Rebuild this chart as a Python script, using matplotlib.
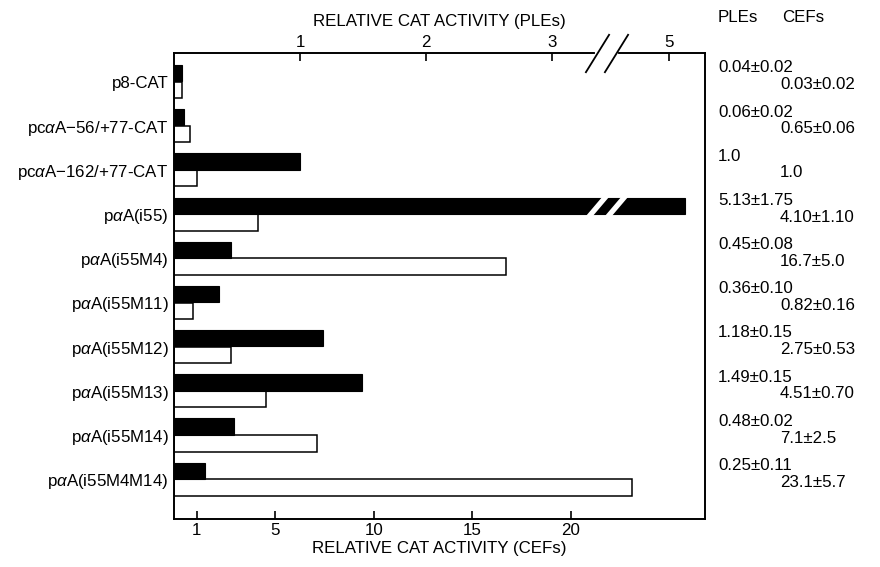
import numpy as np
import matplotlib
matplotlib.use("Agg")
import matplotlib.pyplot as plt
from matplotlib.transforms import blended_transform_factory

plt.rcParams['font.family'] = ['Liberation Sans', 'DejaVu Sans']
plt.rcParams['mathtext.fontset'] = 'custom'
plt.rcParams['mathtext.rm'] = 'Liberation Sans'
plt.rcParams['mathtext.it'] = 'Liberation Sans:italic'

constructs = [
    "p8-CAT",
    r"pc$\alpha$A$-$56/$+$77-CAT",
    r"pc$\alpha$A$-$162/$+$77-CAT",
    r"p$\alpha$A(i55)",
    r"p$\alpha$A(i55M4)",
    r"p$\alpha$A(i55M11)",
    r"p$\alpha$A(i55M12)",
    r"p$\alpha$A(i55M13)",
    r"p$\alpha$A(i55M14)",
    r"p$\alpha$A(i55M4M14)",
]
# bar lengths as drawn
ple_vals = [0.06, 0.08, 1.0, 5.13, 0.45, 0.36, 1.18, 1.49, 0.48, 0.25]
cef_vals = [0.25, 0.65, 1.0, 4.10, 16.7, 0.82, 2.75, 4.51, 7.1, 23.1]
ple_text = ["0.04\u00b10.02", "0.06\u00b10.02", "1.0", "5.13\u00b11.75", "0.45\u00b10.08",
            "0.36\u00b10.10", "1.18\u00b10.15", "1.49\u00b10.15", "0.48\u00b10.02", "0.25\u00b10.11"]
cef_text = ["0.03\u00b10.02", "0.65\u00b10.06", "1.0", "4.10\u00b11.10", "16.7\u00b15.0",
            "0.82\u00b10.16", "2.75\u00b10.53", "4.51\u00b10.70", "7.1\u00b12.5", "23.1\u00b15.7"]
ple_ticks = [1, 2, 3, 5]
cef_ticks = [1, 5, 10, 15, 20]

# broken PLE axis: compress 3.36..4.58
BRK_LO, BRK_HI = 3.36, 4.58
BRK_GAP = 0.149


def fwd(x):
    x = np.asarray(x, dtype=float)
    mid = BRK_LO + (x - BRK_LO) * BRK_GAP / (BRK_HI - BRK_LO)
    hi = x - (BRK_HI - BRK_LO) + BRK_GAP
    return np.where(x <= BRK_LO, x, np.where(x >= BRK_HI, hi, mid))


def inv(g):
    g = np.asarray(g, dtype=float)
    mid = BRK_LO + (g - BRK_LO) * (BRK_HI - BRK_LO) / BRK_GAP
    hi = g + (BRK_HI - BRK_LO) - BRK_GAP
    return np.where(g <= BRK_LO, g, np.where(g >= BRK_LO + BRK_GAP, hi, mid))


fs = 12.2
fig = plt.figure(figsize=(8.8, 5.67), dpi=100)
ax = fig.add_axes([0.1977, 0.0847, 0.6034, 0.8218])
ax2 = ax.twiny()

cef_min = -0.15
y = np.arange(len(constructs))
h = 0.37
ax.barh(y + 0.19, np.array(cef_vals) - cef_min, left=cef_min, height=h,
        color='white', edgecolor='black', linewidth=1.1)
ax2.barh(y - 0.19, ple_vals, height=h, color='black', edgecolor='black', linewidth=0.8)

ax.set_xlim(cef_min, 26.8)
ax2.set_xscale('function', functions=(fwd, inv))
ax2.set_xlim(0, 5.285)
ax.set_ylim(9.9, -0.645)

ax.set_yticks(y)
ax.set_yticklabels(constructs, fontsize=fs)
ax.tick_params(axis='y', length=0, pad=4)
ax.set_xticks(cef_ticks)
ax.set_xticklabels([str(t) for t in cef_ticks], fontsize=fs)
ax.tick_params(axis='x', direction='in', length=6, width=1.2, pad=3)
ax2.set_xticks(ple_ticks)
ax2.set_xticklabels([str(t) for t in ple_ticks], fontsize=fs)
ax2.tick_params(axis='x', direction='in', length=6, width=1.2, pad=2)
ax2.minorticks_off()

for a in (ax, ax2):
    for s in a.spines.values():
        s.set_linewidth(1.2)

ax.set_xlabel("RELATIVE CAT ACTIVITY (CEFs)", fontsize=fs, labelpad=2)
ax2.set_xlabel("RELATIVE CAT ACTIVITY (PLEs)", fontsize=fs, labelpad=7)

# break marks on top axis and on the long bar
top = blended_transform_factory(ax2.transData, ax2.transAxes)
ax2.plot([BRK_LO, BRK_HI], [1, 1], color='white', lw=3, transform=top, clip_on=False, zorder=5)
for xb in (BRK_LO, BRK_HI):
    ax2.plot([xb], [1], marker=[(-0.62, -1), (0.62, 1)], markersize=28, color='black',
             mew=1.3, transform=top, clip_on=False, zorder=6)
    ax2.plot([xb], [3 - 0.19], marker=[(-0.85, -1), (0.85, 1)], markersize=23, color='white',
             mew=3.8, clip_on=False, zorder=6)

# value columns on the right
xt = blended_transform_factory(fig.transFigure, ax.transData)
for i in range(len(constructs)):
    ax.text(718 / 880, i - 0.31, ple_text[i], transform=xt, fontsize=fs, va='center', ha='left')
    ax.text(780 / 880, i + 0.07, cef_text[i], transform=xt, fontsize=fs, va='center', ha='left')
fig.text(718 / 880, 1 - 18 / 567, "PLEs", fontsize=fs, va='center', ha='left')
fig.text(782 / 880, 1 - 18 / 567, "CEFs", fontsize=fs, va='center', ha='left')

fig.savefig("out.png", dpi=100)
